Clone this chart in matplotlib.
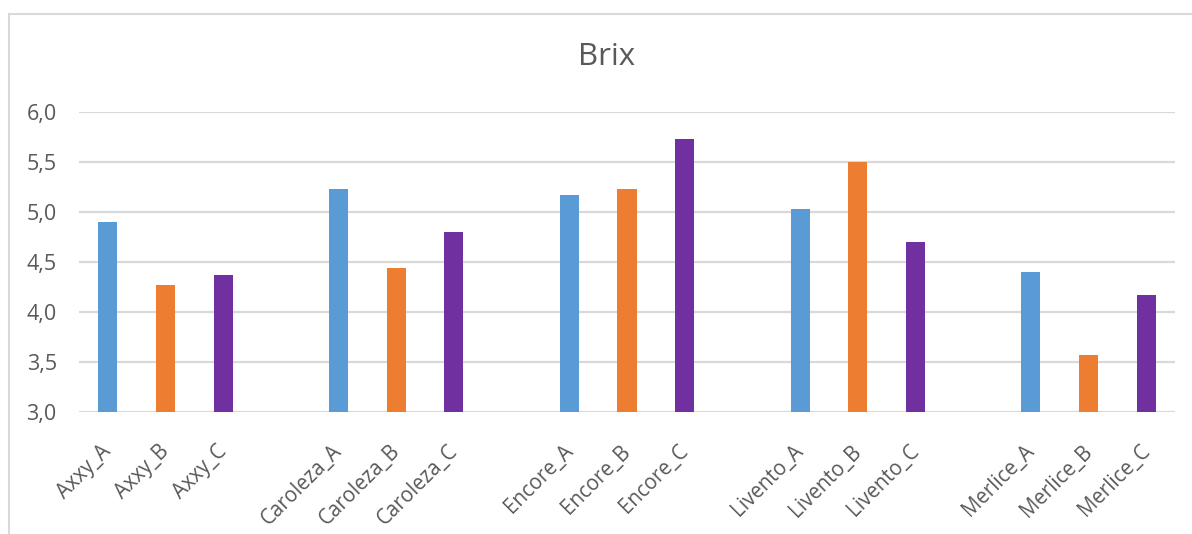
import matplotlib.pyplot as plt
from matplotlib.lines import Line2D
from matplotlib.ticker import FuncFormatter
from matplotlib.transforms import ScaledTranslation

varieties = ["Axxy", "Caroleza", "Encore", "Livento", "Merlice"]
labels = ["Axxy_A", "Axxy_B", "Axxy_C",
          "Caroleza_A", "Caroleza_B", "Caroleza_C",
          "Encore_A", "Encore_B", "Encore_C",
          "Livento_A", "Livento_B", "Livento_C",
          "Merlice_A", "Merlice_B", "Merlice_C"]
brix = [4.90, 4.27, 4.37,
        5.23, 4.44, 4.80,
        5.17, 5.23, 5.73,
        5.03, 5.50, 4.70,
        4.40, 3.57, 4.17]
colors_abc = ["#5B9BD5", "#ED7D31", "#7030A0"]

plt.rcParams['font.family'] = ['Open Sans', 'DejaVu Sans']
text_col = "#595959"

# one empty slot between each variety group
pos = []
for i in range(len(labels)):
    pos.append(i + i // 3)
cols = [colors_abc[i % 3] for i in range(len(labels))]

fig = plt.figure(figsize=(11.92, 5.34), dpi=100)
ax = fig.add_axes([79 / 1192, 1 - 411.7 / 534, (1175 - 79) / 1192, (411.7 - 112) / 534])

ax.bar(pos, [v - 3.0 for v in brix], bottom=3.0, width=0.33, color=cols, zorder=3)

ax.set_xlim(-0.5, 18.5)
ax.set_ylim(3.0, 6.0)
ax.set_yticks([3.0, 3.5, 4.0, 4.5, 5.0, 5.5, 6.0])
ax.yaxis.set_major_formatter(FuncFormatter(lambda v, p: f"{v:.1f}".replace(".", ",")))
ax.grid(axis="y", color="#d9d9d9", linewidth=1.6, zorder=0)
ax.set_xticks(pos)
ax.set_xticklabels(labels, rotation=45, ha="right", va="top", rotation_mode="anchor")
ax.tick_params(axis="x", length=0, labelsize=14.8, labelcolor=text_col, pad=21)
ax.tick_params(axis="y", length=0, labelsize=15.5, labelcolor=text_col, pad=16)
shift = ScaledTranslation(-7 / 100, 0, fig.dpi_scale_trans)
for lab in ax.get_xticklabels():
    lab.set_transform(lab.get_transform() + shift)
for s in ax.spines.values():
    s.set_visible(False)

fig.text(607 / 1192, 1 - 57 / 534, "Brix", ha="center", va="center", fontsize=22.5, color=text_col)

# chart area border (top and left visible)
fig.add_artist(Line2D([8.5 / 1192, 1], [1 - 13.5 / 534, 1 - 13.5 / 534], color="#d9d9d9", linewidth=1.5))
fig.add_artist(Line2D([8.5 / 1192, 8.5 / 1192], [0, 1 - 13.5 / 534], color="#d9d9d9", linewidth=1.5))

fig.savefig("out.png", dpi=100)
